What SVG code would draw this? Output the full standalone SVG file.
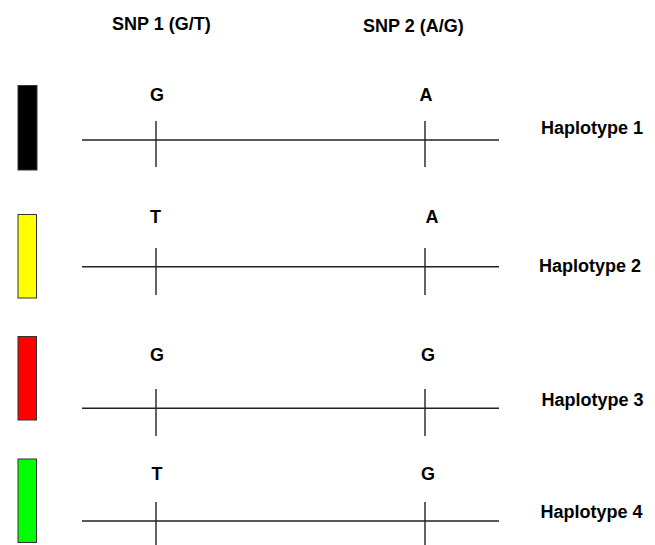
<svg xmlns="http://www.w3.org/2000/svg" width="655" height="545" viewBox="0 0 655 545">
<style>
text{font-family:"Liberation Sans",Arial,sans-serif;font-weight:bold;font-size:18px;fill:#000}
.m{text-anchor:middle}
.ln{stroke:#222;stroke-width:1.4;fill:none}
.bar{stroke:#333;stroke-width:1}
</style>
<rect width="655" height="545" fill="#fff"/>
<g id="header">
<text x="112" y="30">SNP 1 (G/T)</text>
<text x="363" y="32">SNP 2 (A/G)</text>
</g>
<g id="connectors">
<line class="ln" x1="82" y1="140" x2="499" y2="140"/>
<line class="ln" x1="156" y1="121" x2="156" y2="167"/>
<line class="ln" x1="425" y1="121" x2="425" y2="167"/>
<line class="ln" x1="82" y1="266.7" x2="499" y2="266.7"/>
<line class="ln" x1="156" y1="248" x2="156" y2="295"/>
<line class="ln" x1="425" y1="248" x2="425" y2="295"/>
<line class="ln" x1="82" y1="408.3" x2="499" y2="408.3"/>
<line class="ln" x1="156" y1="389" x2="156" y2="436"/>
<line class="ln" x1="425" y1="389" x2="425" y2="436"/>
<line class="ln" x1="82" y1="521" x2="499" y2="521"/>
<line class="ln" x1="156" y1="502" x2="156" y2="545"/>
<line class="ln" x1="425" y1="502" x2="425" y2="545"/>
</g>
<g id="haplotype1">
<rect class="bar" x="18" y="85.5" width="19" height="84.5" fill="#000"/>
<text class="m" x="157" y="101">G</text>
<text class="m" x="426" y="101">A</text>
<text x="541" y="134">Haplotype 1</text>
</g>
<g id="haplotype2">
<rect class="bar" x="18" y="214.5" width="18.5" height="83.5" fill="#ffff00"/>
<text class="m" x="155.5" y="222.5">T</text>
<text class="m" x="432" y="222.5">A</text>
<text x="539" y="272">Haplotype 2</text>
</g>
<g id="haplotype3">
<rect class="bar" x="18" y="336.5" width="18.5" height="83.5" fill="#ff0000"/>
<text class="m" x="157" y="361">G</text>
<text class="m" x="428" y="361">G</text>
<text x="541.5" y="405.5">Haplotype 3</text>
</g>
<g id="haplotype4">
<rect class="bar" x="18" y="459" width="18.5" height="83.5" fill="#00ff00"/>
<text class="m" x="157" y="479.5">T</text>
<text class="m" x="428" y="479.5">G</text>
<text x="540.5" y="517.5">Haplotype 4</text>
</g>
</svg>
